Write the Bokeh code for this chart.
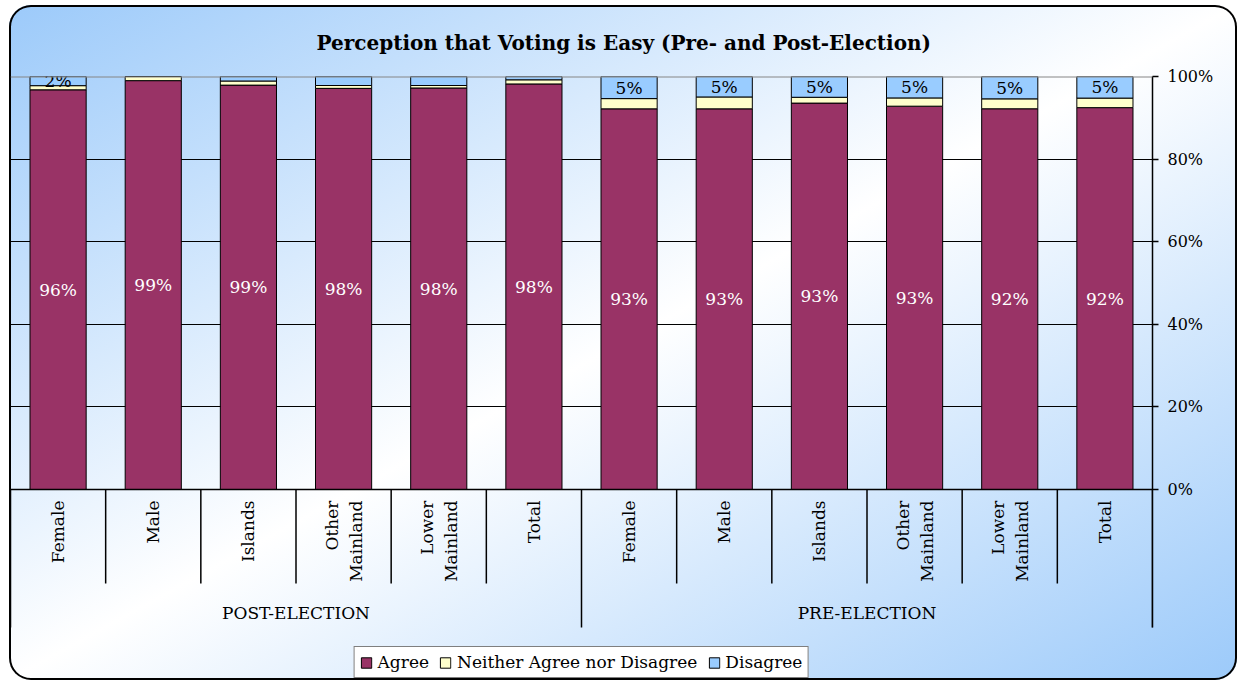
import math
from bokeh.plotting import figure
from bokeh.models import (FactorRange, Range1d, FixedTicker, Span, Legend, LegendItem,
                          ColumnDataSource)
from bokeh.embed import file_html
from bokeh.resources import INLINE
from bokeh.core.properties import value

# ---------------- data ----------------
groups = ["POST-ELECTION"] * 6 + ["PRE-ELECTION"] * 6
categories = ["Female", "Male", "Islands", "Other\nMainland", "Lower\nMainland", "Total"] * 2
agree = [96, 99, 98.6, 98, 98, 98, 93, 93, 93, 93, 92, 92]
neither = [1.0, 1.0, 1.0, 0.7, 0.6, 1.0, 2.5, 2.9, 1.4, 2.0, 2.4, 2.3]
disagree = [2.2, 0.0, 1.1, 2.2, 2.2, 0.8, 5.4, 5.0, 5.0, 5.2, 5.4, 5.2]
show_disagree_label = [1, 0, 0, 0, 0, 0, 1, 1, 1, 1, 1, 1]
series_names = ["Agree", "Neither Agree nor Disagree", "Disagree"]
series_colors = ["#993366", "#FFFFCC", "#99CCFF"]
y_ticks = [0, 20, 40, 60, 80, 100]
grid_ticks = [20, 40, 60, 80]

FONT = "DejaVu Serif"

factors = list(zip(groups, categories))
n = len(factors)
totals = [a + b + c for a, b, c in zip(agree, neither, disagree)]
a_pct = [100 * a / t for a, t in zip(agree, totals)]
n_pct = [100 * b / t for b, t in zip(neither, totals)]
d_pct = [100 * c / t for c, t in zip(disagree, totals)]
a_top = a_pct
n_top = [a + b for a, b in zip(a_pct, n_pct)]
d_top = [a + b + c for a, b, c in zip(a_pct, n_pct, d_pct)]

px_per_unit = 4.13
frame_h = 604
y_start = 100 - frame_h / px_per_unit
sep_short = -94 / px_per_unit
sep_long = -138 / px_per_unit
group_label_y = -123 / px_per_unit

p = figure(width=1228, height=675,
           x_range=FactorRange(*factors, factor_padding=0, group_padding=0, range_padding=0),
           y_range=Range1d(y_start, 100),
           y_axis_location="right",
           toolbar_location=None, output_backend="svg",
           min_border_left=1, min_border_right=85, min_border_top=71, min_border_bottom=0,
           title="Perception that Voting is Easy (Pre- and Post-Election)")

p.styles = {"position": "absolute", "left": "9px", "top": "5px",
            "border-radius": "22px",
            "background": "linear-gradient(to bottom right, #9ccafa 0%, #ffffff 50%, #9ccafa 100%)",
            "box-shadow": "inset 0 0 0 2px #000000"}
p.background_fill_alpha = 0
p.border_fill_alpha = 0
p.outline_line_color = None

p.title.text_font = FONT
p.title.text_font_size = "20px"
p.title.text_font_style = "bold"
p.title.text_color = "black"
p.title.align = "left"
p.title.offset = 306
p.title.standoff = 44

# bars
src = ColumnDataSource(dict(x=factors, a0=[0] * n, a1=a_top, n1=n_top, d1=d_top))
r_a = p.vbar(x="x", bottom="a0", top="a1", width=0.59, source=src,
             fill_color=series_colors[0], line_color="black", line_width=1)
r_n = p.vbar(x="x", bottom="a1", top="n1", width=0.59, source=src,
             fill_color=series_colors[1], line_color="black", line_width=1)
r_d = p.vbar(x="x", bottom="n1", top="d1", width=0.59, source=src,
             fill_color=series_colors[2], line_color="black", line_width=1)

# grid
p.xgrid.visible = False
p.ygrid.ticker = FixedTicker(ticks=grid_ticks)
p.ygrid.grid_line_color = "black"
p.ygrid.grid_line_width = 1
p.add_layout(Span(location=100, dimension="width", line_color="#868686", line_width=2))

# y axis
p.yaxis.ticker = FixedTicker(ticks=y_ticks)
p.yaxis.major_label_overrides = {t: f"{t}%" for t in y_ticks}
p.yaxis.bounds = (sep_long, 100)
p.yaxis.major_tick_out = 6
p.yaxis.major_tick_in = 0
p.yaxis.minor_tick_line_color = None
p.yaxis.axis_line_color = "black"
p.yaxis.axis_line_width = 1.5
p.yaxis.major_tick_line_width = 1.5
p.yaxis.major_label_standoff = 9
p.yaxis.major_label_text_font = FONT
p.yaxis.major_label_text_font_size = "16px"
p.yaxis.major_label_text_color = "black"

# x axis (category axis fixed at 0)
xa = p.xaxis[0]
xa.fixed_location = 0
xa.axis_line_color = "black"
xa.axis_line_width = 1.5
xa.major_tick_line_color = None
xa.major_tick_out = 0
xa.major_tick_in = 0
xa.separator_line_color = None
xa.major_label_orientation = math.pi / 2
xa.major_label_standoff = 11
xa.major_label_text_font = FONT
xa.major_label_text_font_size = "17px"
xa.major_label_text_color = "black"
xa.group_text_color = None

# category separators
sep_x = [(g, c, -0.5) for g, c in factors] + [(groups[-1], categories[-1], 0.5)]
edge = [i == 0 or groups[i] != groups[i - 1] for i in range(n)] + [True]
sep_src = ColumnDataSource(dict(x=sep_x, y0=[0] * (n + 1),
                                y1=[sep_long if e else sep_short for e in edge]))
p.segment(x0="x", y0="y0", x1="x", y1="y1", source=sep_src, line_color="black", line_width=1.5)

# group labels, centred under each group
group_names = list(dict.fromkeys(groups))
group_x = []
for g in group_names:
    members = [f for f in factors if f[0] == g]
    k = len(members)
    mid = members[k // 2 - 1] if k % 2 == 0 else members[k // 2]
    group_x.append((mid[0], mid[1], 0.5 if k % 2 == 0 else 0.0))
grp_src = ColumnDataSource(dict(x=group_x, y=[group_label_y] * len(group_names), t=group_names))
p.text(x="x", y="y", text="t", source=grp_src, text_align="center", text_baseline="middle",
       text_color="black", text_font=value(FONT), text_font_size="17px")

# data labels
lab_a = ColumnDataSource(dict(x=factors, y=[v / 2 for v in a_top],
                              t=[f"{round(v)}%" for v in agree]))
p.text(x="x", y="y", text="t", source=lab_a, text_align="center", text_baseline="middle",
       text_color="white", text_font=value(FONT), text_font_size="17px")
idx = [i for i in range(n) if show_disagree_label[i]]
lab_d = ColumnDataSource(dict(x=[factors[i] for i in idx],
                              y=[(n_top[i] + d_top[i]) / 2 for i in idx],
                              t=[f"{round(disagree[i])}%" for i in idx]))
p.text(x="x", y="y", text="t", source=lab_d, text_align="center", text_baseline="middle",
       text_color="black", text_font=value(FONT), text_font_size="17px")

# legend
legend = Legend(items=[LegendItem(label=series_names[0], renderers=[r_a]),
                       LegendItem(label=series_names[1], renderers=[r_n]),
                       LegendItem(label=series_names[2], renderers=[r_d])],
                orientation="horizontal", location="bottom_center", margin=2,
                padding=5, spacing=10, label_standoff=5, glyph_width=13, glyph_height=13,
                border_line_color="black", border_line_width=1,
                background_fill_color="white", background_fill_alpha=1,
                label_text_font=FONT, label_text_font_size="17px", label_text_color="black")
p.add_layout(legend, "center")

open("out.html", "w").write(file_html(p, INLINE))
